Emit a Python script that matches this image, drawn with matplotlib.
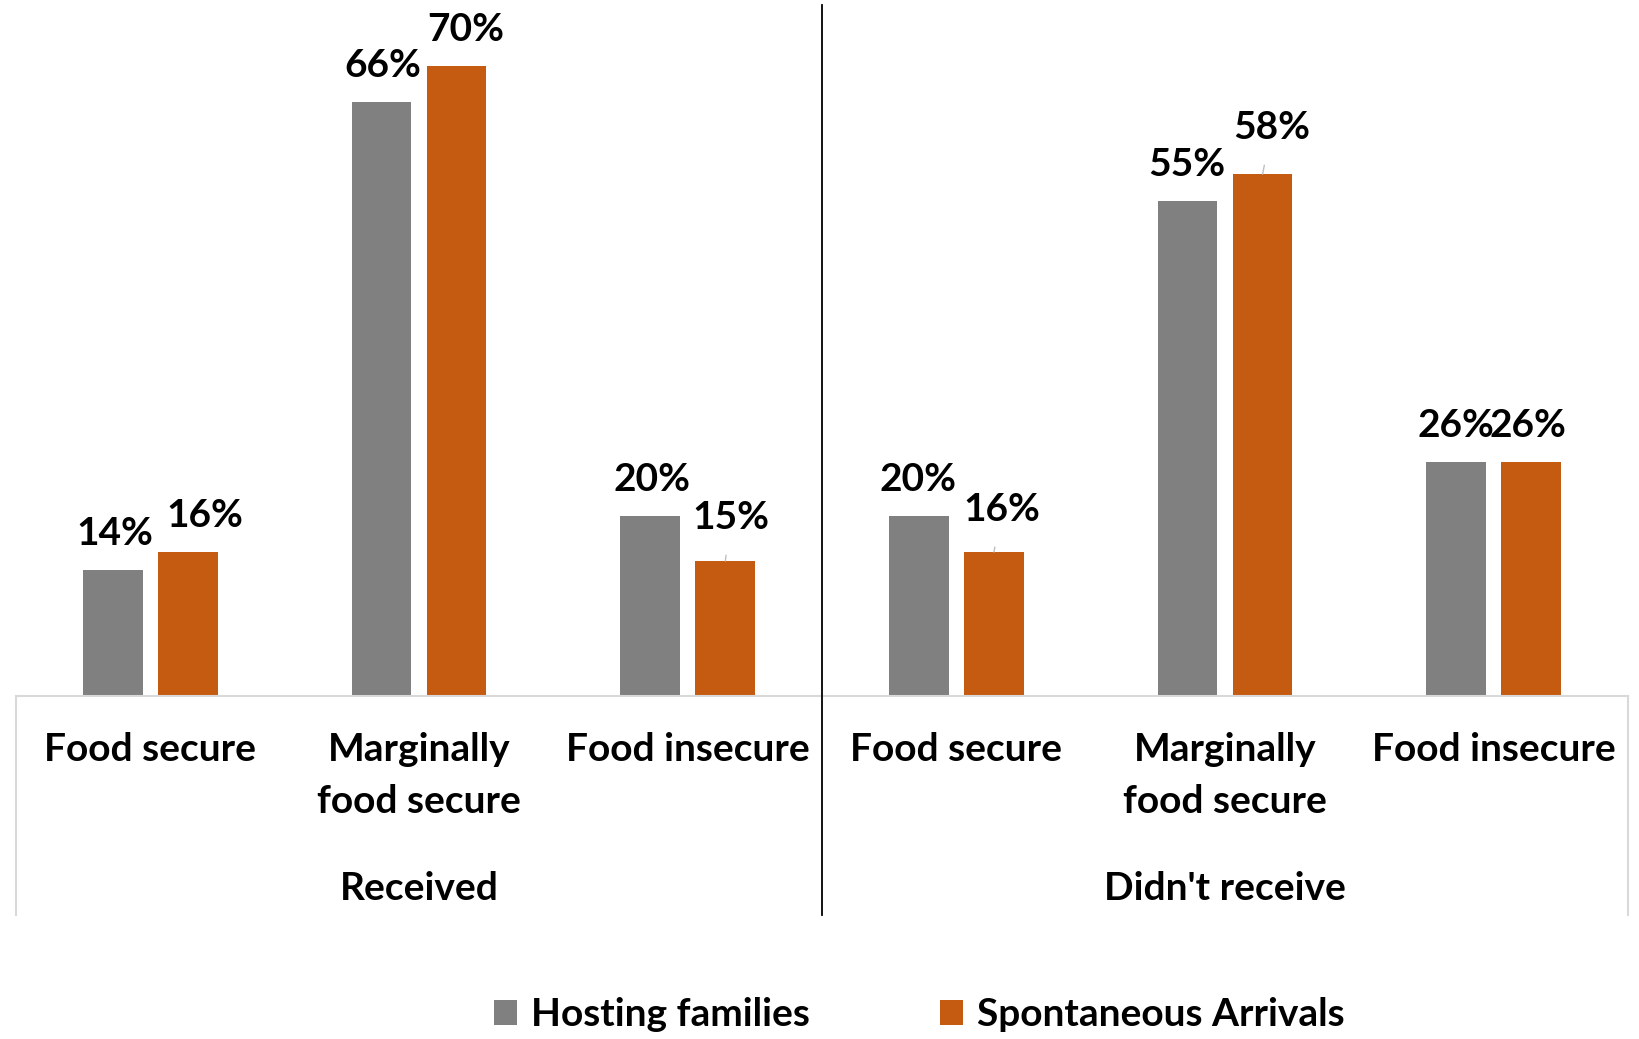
import matplotlib.pyplot as plt
import numpy as np

plt.rcParams['font.family'] = ['Lato', 'DejaVu Sans']
plt.rcParams['font.weight'] = 'bold'

# data
categories = ['Food secure', 'Marginally\nfood secure', 'Food insecure',
              'Food secure', 'Marginally\nfood secure', 'Food insecure']
groups = ['Received', "Didn't receive"]
hosting = [14, 66, 20, 20, 55, 26]
spontaneous = [16, 70, 15, 16, 58, 26]
series_names = ['Hosting families', 'Spontaneous Arrivals']

GRAY = '#808080'
ORANGE = '#C55A11'
BOX = '#d9d9d9'

fig = plt.figure(figsize=(16.4, 10.39), dpi=100)
W, H = 1640, 1039
# axes placed in pixel terms
ax = fig.add_axes([16 / W, (H - 696) / H, 1612 / W, 691 / H])

x = np.arange(len(categories))
bw = 0.222
off = 0.14
b1 = ax.bar(x - off, hosting, bw, color=GRAY, label=series_names[0])
b2 = ax.bar(x + off, spontaneous, bw, color=ORANGE, label=series_names[1])

ax.set_xlim(-0.5, 5.5)
ax.set_ylim(0, 76.8)
for s in ax.spines.values():
    s.set_visible(False)
ax.set_xticks([])
ax.set_yticks([])

# baseline + category box
ax.axhline(0, color=BOX, lw=1.5, clip_on=False)
box_bottom = -(915 - 696) / 691  # axes fraction
trans = ax.get_xaxis_transform()
ax.plot([-0.5, -0.5], [0, box_bottom], color=BOX, lw=1.5, transform=trans, clip_on=False)
ax.plot([5.5, 5.5], [0, box_bottom], color=BOX, lw=1.5, transform=trans, clip_on=False)
ax.plot([2.5, 2.5], [1, box_bottom], color='black', lw=1.3, transform=trans, clip_on=False)

# value labels (offsets in pixels: dx, dy above bar top)
host_off = [(2, 37), (1, 37), (2, 37), (-1, 37), (-1, 37), (0, 37)]
spon_off = [(17, 37), (9, 37), (6, 44), (8, 43), (9, 47), (-3, 37)]
fs = 28
for i in range(len(categories)):
    for val, xo, (dx, dy) in [(hosting[i], x[i] - off, host_off[i]),
                              (spontaneous[i], x[i] + off, spon_off[i])]:
        lead = dy > 40
        ax.annotate(f'{val}%', xy=(xo, val), xytext=(dx, dy),
                    textcoords='offset pixels', ha='center', va='center',
                    fontsize=fs, fontweight='bold',
                    arrowprops=dict(arrowstyle='-', color='#bfbfbf', lw=1,
                                    shrinkA=13, shrinkB=0) if lead else None)

# category and group labels
for i, c in enumerate(categories):
    ax.annotate(c, xy=(x[i], 0), xytext=(0, -36), textcoords='offset pixels',
                ha='center', va='top', fontsize=fs, fontweight='bold',
                linespacing=1.6, annotation_clip=False)
for j, g in enumerate(groups):
    ax.annotate(g, xy=(1 + 3 * j, 0), xytext=(0, -192), textcoords='offset pixels',
                ha='center', va='center', fontsize=fs, fontweight='bold',
                annotation_clip=False)

leg = fig.legend(handles=[b1, b2], labels=series_names, loc='center',
                 bbox_to_anchor=(919 / W, 24 / H), ncol=2, frameon=False,
                 fontsize=fs, handlelength=0.6, handleheight=0.6,
                 handletextpad=0.35, columnspacing=3.35)

fig.savefig('out.png', dpi=100)
